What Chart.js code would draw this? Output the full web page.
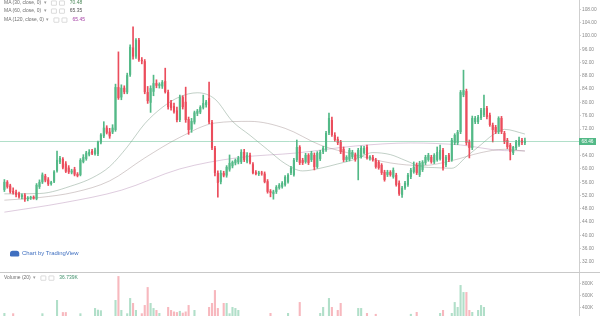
<!DOCTYPE html>
<html>
<head>
<meta charset="utf-8">
<script src="https://cdn.jsdelivr.net/npm/chart.js@4.4.1/dist/chart.umd.min.js"></script>
<style>
  html, body { margin: 0; padding: 0; background: #fff; overflow: hidden; }
  #wrap { position: relative; width: 600px; height: 316px; }
  #chart { position: absolute; left: 0; top: 0; }
  .leg {
    position: absolute; left: 4px; white-space: nowrap;
    font: 8px "Liberation Sans", Arial, sans-serif; color: #6f6f6f;
    transform: scale(0.62); transform-origin: 0 0;
    display: flex; align-items: center; gap: 4px;
  }
  .ico { display: inline-block; width: 7px; height: 6px; border: 1px solid #c4c4c4; border-radius: 1px; }
  .arr { color: #9a9a9a; margin-right: 4px; }
  .tv { position: absolute; left: 10px; top: 250px; display: flex; align-items: center; gap: 4px;
        font: 9px "Liberation Sans", Arial, sans-serif; color: #3f6fc0;
        transform: scale(0.66); transform-origin: 0 0; white-space: nowrap; }
  .logo { width: 14px; height: 9px; background: #3f6fc0; border-radius: 4px 4px 2px 2px; }
</style>
</head>
<body>
<div id="wrap">
  <canvas id="chart" width="600" height="316"></canvas>
  <div class="leg" style="top:0px">MA (30, close, 0) <span class="arr">▾</span><span class="ico"></span><span class="ico"></span><span style="color:#4f8a5c;margin-left:4px">70.48</span></div>
  <div class="leg" style="top:8px">MA (60, close, 0) <span class="arr">▾</span><span class="ico"></span><span class="ico"></span><span style="color:#555;margin-left:4px">65.35</span></div>
  <div class="leg" style="top:17px">MA (120, close, 0) <span class="arr">▾</span><span class="ico"></span><span class="ico"></span><span style="color:#a43ea4;margin-left:4px">65.45</span></div>
  <div class="tv"><span class="logo"></span>Chart by TradingView</div>
  <div class="leg" style="top:275px">Volume (20) <span class="arr">▾</span><span class="ico"></span><span class="ico"></span><span style="color:#3f8f6a;margin-left:4px">36.739K</span></div>
</div>
<script>
// daily candles (price units)
const opens = [
  53.7, 56.1, 55.0, 53.4, 53.0, 52.6, 51.6, 52.2, 50.9, 51.2,
  51.6, 51.0, 54.6, 56.0, 57.9, 56.8, 55.5, 56.2, 59.4, 62.0,
  63.0, 61.6, 60.4, 58.9, 59.9, 58.5, 58.2, 62.1, 63.0, 64.3,
  65.4, 64.5, 64.5, 67.9, 69.8, 72.4, 71.2, 71.0, 71.7, 84.6,
  81.5, 84.4, 83.0, 88.3, 96.5, 93.8, 98.8, 92.8, 92.4, 83.1,
  79.9, 83.2, 85.8, 85.0, 84.8, 86.4, 83.1, 79.9, 78.9, 77.6,
  74.7, 81.6, 80.2, 75.0, 71.8, 74.0, 76.6, 77.0, 78.4, 79.2,
  81.3, 74.1, 66.3, 58.8, 56.1, 58.8, 58.0, 59.8, 60.8, 61.7,
  62.0, 62.1, 65.1, 62.2, 64.2, 61.4, 59.0, 58.5, 58.9, 58.6,
  56.3, 53.3, 52.4, 53.1, 54.3, 54.6, 55.2, 56.1, 58.8, 58.2,
  62.7, 66.6, 62.7, 62.1, 64.2, 62.7, 64.2, 60.6, 63.0, 65.1,
  65.8, 70.8, 74.7, 70.2, 69.0, 68.1, 66.0, 62.7, 62.8, 63.6,
  64.2, 63.3, 63.6, 64.8, 66.6, 63.3, 63.6, 62.7, 62.1, 61.2,
  59.1, 58.2, 59.1, 57.6, 58.2, 55.8, 52.2, 54.3, 55.2, 57.6,
  59.1, 61.2, 58.2, 59.7, 61.8, 62.7, 63.6, 62.0, 62.7, 63.0,
  65.7, 61.2, 64.2, 62.7, 67.8, 67.8, 71.1, 82.2, 83.4, 68.1,
  66.3, 74.1, 74.1, 75.3, 76.2, 78.3, 76.2, 73.2, 72.6, 71.1,
  75.3, 70.8, 68.7, 67.2, 64.8, 66.3, 67.2, 68.7, 67.8
];
const highs = [
  56.8, 56.5, 55.4, 54.3, 53.6, 53.0, 52.5, 52.6, 51.7, 51.8,
  51.9, 55.6, 56.7, 58.8, 58.4, 57.4, 56.3, 59.5, 65.4, 63.8,
  63.4, 62.2, 61.0, 59.9, 60.5, 58.9, 63.1, 64.3, 65.3, 65.8,
  65.9, 66.3, 68.4, 70.6, 74.2, 73.0, 72.2, 73.3, 85.5, 95.2,
  85.3, 85.0, 88.8, 97.3, 102.7, 99.2, 99.3, 93.5, 92.9, 84.8,
  85.0, 88.2, 86.8, 85.9, 86.6, 90.3, 83.7, 80.6, 79.8, 78.6,
  82.2, 82.0, 84.6, 75.6, 75.2, 77.4, 77.9, 79.0, 82.2, 80.6,
  86.1, 74.6, 66.8, 59.4, 59.5, 59.3, 61.0, 64.2, 62.4, 63.0,
  63.8, 65.8, 65.9, 64.9, 64.8, 61.9, 59.5, 59.3, 59.3, 59.1,
  56.8, 53.8, 53.6, 55.0, 55.6, 56.2, 58.0, 58.6, 60.8, 63.2,
  68.7, 67.0, 63.2, 64.7, 64.6, 65.3, 64.8, 65.2, 65.6, 66.8,
  71.3, 76.8, 75.6, 70.9, 69.6, 68.6, 66.6, 64.0, 66.2, 65.6,
  64.8, 66.2, 66.9, 66.8, 67.2, 64.0, 64.1, 63.2, 62.5, 61.6,
  59.6, 59.6, 59.5, 60.3, 58.7, 56.4, 54.8, 56.3, 58.7, 60.2,
  62.1, 61.8, 62.3, 62.5, 64.1, 64.7, 64.1, 64.6, 66.6, 67.2,
  66.2, 64.1, 64.7, 69.2, 70.6, 71.6, 83.6, 89.7, 84.0, 68.7,
  75.9, 75.8, 76.1, 78.2, 82.2, 78.8, 76.8, 73.8, 73.1, 75.7,
  75.8, 71.3, 69.2, 67.7, 66.8, 68.6, 69.6, 69.2, 69.3
];
const lows = [
  53.2, 54.2, 52.7, 52.4, 51.6, 51.2, 51.0, 50.2, 50.4, 50.8,
  50.9, 50.7, 54.1, 55.6, 56.1, 55.0, 55.1, 55.9, 59.0, 61.6,
  60.0, 58.9, 58.6, 58.5, 57.9, 57.6, 57.9, 61.8, 62.6, 63.9,
  64.3, 64.1, 64.0, 67.5, 69.4, 70.5, 69.2, 70.6, 71.3, 80.9,
  80.8, 82.6, 82.6, 87.8, 93.0, 93.2, 92.3, 91.6, 82.6, 79.7,
  77.0, 82.0, 84.4, 84.3, 84.2, 82.8, 78.0, 77.7, 76.8, 74.1,
  74.2, 78.0, 74.0, 70.4, 71.0, 73.5, 76.0, 76.6, 78.0, 78.6,
  73.6, 65.8, 57.9, 51.5, 55.5, 57.6, 57.5, 59.3, 60.3, 61.2,
  61.5, 61.6, 62.2, 61.8, 61.5, 58.5, 58.2, 58.0, 58.1, 55.8,
  52.7, 51.6, 50.9, 52.6, 53.9, 54.2, 54.8, 55.7, 58.3, 57.8,
  62.2, 61.3, 61.3, 61.7, 61.3, 62.2, 59.7, 60.2, 62.5, 64.6,
  65.3, 70.3, 69.8, 68.3, 67.3, 64.6, 62.2, 62.2, 62.4, 63.1,
  62.3, 56.7, 63.2, 64.4, 62.9, 62.6, 62.3, 60.2, 59.9, 58.3,
  56.3, 57.7, 57.8, 57.2, 54.8, 52.0, 51.4, 53.8, 54.7, 57.1,
  58.7, 58.3, 57.7, 59.2, 61.3, 62.3, 61.7, 61.6, 62.3, 62.6,
  59.6, 60.7, 62.2, 62.3, 67.3, 67.3, 70.6, 81.7, 67.2, 63.3,
  65.8, 73.6, 73.6, 74.8, 75.7, 75.0, 72.8, 68.1, 70.6, 70.6,
  70.6, 67.6, 66.1, 62.7, 64.3, 65.8, 66.8, 67.3, 67.3
];
const closes = [
  56.1, 54.6, 53.1, 52.8, 52.2, 51.6, 52.1, 50.8, 51.4, 51.6,
  51.1, 55.2, 56.1, 58.3, 56.5, 55.4, 56.0, 59.2, 62.7, 63.3,
  60.4, 59.2, 59.0, 59.5, 58.3, 57.9, 62.7, 63.6, 64.9, 65.1,
  64.6, 65.8, 68.1, 70.3, 72.4, 70.9, 69.8, 72.4, 84.6, 81.3,
  84.4, 83.1, 88.2, 96.7, 93.8, 98.8, 92.8, 92.4, 83.1, 80.4,
  84.3, 85.8, 85.0, 85.5, 86.1, 83.1, 78.6, 78.3, 77.2, 74.7,
  81.6, 78.6, 74.7, 71.7, 74.4, 77.0, 77.5, 78.6, 79.8, 80.2,
  74.1, 66.3, 58.8, 55.8, 58.8, 58.0, 60.6, 61.8, 62.1, 62.7,
  63.3, 65.1, 62.7, 64.2, 61.9, 58.8, 58.5, 58.9, 58.6, 56.1,
  53.1, 52.8, 53.2, 54.6, 55.2, 55.8, 57.6, 58.2, 60.3, 62.7,
  66.6, 61.8, 61.8, 64.2, 61.8, 64.8, 60.6, 64.8, 65.1, 66.3,
  70.8, 75.3, 70.2, 68.7, 67.8, 65.1, 62.7, 63.6, 65.7, 65.1,
  62.8, 65.7, 66.3, 66.3, 63.3, 63.7, 62.7, 60.6, 60.3, 58.8,
  56.7, 59.1, 58.2, 59.7, 55.2, 52.5, 54.3, 55.8, 58.2, 59.7,
  60.6, 58.8, 61.8, 62.1, 63.6, 64.2, 62.1, 64.2, 65.1, 65.7,
  60.3, 63.6, 62.7, 68.7, 70.2, 71.1, 83.1, 83.7, 67.8, 66.3,
  75.3, 75.3, 75.6, 77.7, 78.3, 75.6, 73.2, 71.7, 71.1, 75.3,
  71.1, 68.1, 66.6, 65.1, 66.6, 68.1, 68.7, 67.8, 68.46
];
// volume in thousands
const volumes = [
  305, 210, 180, 300, 190, 170, 150, 220, 140, 130,
  160, 240, 200, 300, 180, 170, 150, 230, 522, 250,
  320, 320, 200, 160, 190, 170, 300, 240, 210, 200,
  180, 388, 360, 350, 250, 220, 210, 240, 522, 922,
  355, 240, 300, 555, 472, 355, 250, 300, 438, 738,
  472, 388, 355, 305, 230, 250, 405, 355, 330, 320,
  340, 310, 330, 438, 250, 355, 240, 220, 230, 210,
  405, 472, 688, 388, 250, 472, 472, 300, 405, 388,
  355, 240, 210, 190, 200, 230, 180, 160, 170, 210,
  240, 305, 200, 190, 170, 180, 200, 305, 240, 250,
  230, 488, 220, 200, 190, 210, 240, 230, 305, 405,
  250, 555, 405, 240, 355, 472, 250, 200, 230, 210,
  190, 388, 388, 240, 305, 180, 170, 290, 220, 200,
  240, 180, 170, 200, 230, 240, 190, 180, 200, 290,
  220, 322, 210, 200, 190, 180, 200, 190, 170, 305,
  355, 210, 220, 305, 488, 405, 772, 655, 655, 355,
  322, 240, 355, 438, 405, 250, 230, 210, 220, 240,
  200, 190, 230, 210, 200, 220, 180, 170, 37
];

// moving averages, read at a few candle positions
const ma30At = [0, 12, 24, 30, 36, 42, 48, 54, 60, 66, 72, 78, 84, 90, 96, 102, 108, 114, 120, 126, 132, 137, 143, 147, 153, 158, 163, 167, 171, 178];
const ma30 = [52.5, 52.6, 55.2, 57.3, 60.7, 66.6, 73.6, 78.5, 81.7, 82.9, 81.0, 74.3, 70.1, 65.8, 61.6, 59.4, 60.2, 61.5, 62.9, 64.9, 64.3, 62.6, 60.6, 60.4, 60.2, 63.7, 67.3, 70.2, 71.9, 70.5];
const ma60At = [0, 12, 24, 36, 48, 60, 72, 84, 96, 108, 120, 132, 143, 153, 163, 171, 178];
const ma60 = [50.6, 51.4, 53.0, 56.4, 63.3, 69.5, 73.8, 74.3, 72.2, 67.2, 64.3, 61.8, 61.0, 62.5, 64.9, 65.9, 65.35];
const ma120At = [0, 20, 40, 60, 80, 100, 120, 139, 156, 171, 178];
const ma120 = [47.0, 49.8, 53.6, 60.0, 63.4, 64.8, 66.9, 67.8, 67.2, 65.5, 65.45];

const priceTicks = [32, 36, 40, 44, 48, 52, 56, 60, 64, 68, 72, 76, 80, 84, 88, 92, 96, 100, 104, 108];
const volumeTicks = [400, 600, 800];

const upColor = '#53b987';
const downColor = '#eb4d5c';

const candleCount = opens.length;
// one empty day before the first candle, room on the right after the last one
const slots = Array.from({ length: candleCount + 19 }, (_, i) => 'd' + i);
const lead = arr => [null, ...arr];
const isUp = closes.map((c, i) => c >= opens[i]);
const candleColors = lead(isUp.map(u => (u ? upColor : downColor)));
const volumeColors = lead(isUp.map(u => (u ? 'rgba(83,185,135,0.45)' : 'rgba(235,77,92,0.4)')));

function sparse(at, vals) {
  const out = new Array(candleCount).fill(null);
  at.forEach((idx, k) => { out[idx] = vals[k]; });
  return lead(out);
}

function maLine(at, vals, color) {
  return {
    type: 'line', data: sparse(at, vals), yAxisID: 'y', order: 3,
    borderColor: color, borderWidth: 1, pointRadius: 0, spanGaps: true,
    cubicInterpolationMode: 'monotone'
  };
}

// separator between panes, last-price line and its axis label
const overlays = {
  id: 'overlays',
  afterDatasetsDraw(chart) {
    const ctx = chart.ctx;
    const area = chart.chartArea;
    const y = chart.scales.y;
    const vol = chart.scales.yVol;
    const last = closes[closes.length - 1];
    const py = Math.round(y.getPixelForValue(last)) + 0.5;
    ctx.save();
    ctx.strokeStyle = 'rgba(83,185,135,0.45)';
    ctx.lineWidth = 1;
    ctx.beginPath();
    ctx.moveTo(area.left, py);
    ctx.lineTo(area.right, py);
    ctx.stroke();
    ctx.strokeStyle = '#c9c9c9';
    ctx.beginPath();
    ctx.moveTo(0, Math.round(vol.top) + 0.5);
    ctx.lineTo(chart.width, Math.round(vol.top) + 0.5);
    ctx.stroke();
    ctx.fillStyle = upColor;
    ctx.fillRect(area.right, py - 3.5, 17, 7);
    ctx.fillStyle = '#fff';
    ctx.font = '4.8px "Liberation Sans", Arial, sans-serif';
    ctx.textBaseline = 'middle';
    ctx.textAlign = 'center';
    ctx.fillText(last.toFixed(2), area.right + 8.5, py);
    ctx.restore();
  }
};

const axisFont = { family: '"Liberation Sans", Arial, sans-serif', size: 4.8 };
const fitAxis = s => { s.width = 21; s.paddingTop = 0; s.paddingBottom = 0; };

new Chart(document.getElementById('chart'), {
  data: {
    labels: slots,
    datasets: [
      {
        type: 'bar', data: lead(opens.map((o, i) => [o, closes[i]])), yAxisID: 'y', order: 1,
        backgroundColor: candleColors, grouped: false, barPercentage: 0.72,
        categoryPercentage: 1, minBarLength: 1
      },
      {
        type: 'bar', data: lead(lows.map((l, i) => [l, highs[i]])), yAxisID: 'y', order: 2,
        backgroundColor: candleColors, grouped: false, barThickness: 1
      },
      maLine(ma30At, ma30, 'rgba(120,150,130,0.45)'),
      maLine(ma60At, ma60, 'rgba(150,130,130,0.4)'),
      maLine(ma120At, ma120, 'rgba(160,110,160,0.35)'),
      {
        type: 'bar', data: lead(volumes), yAxisID: 'yVol', order: 4,
        backgroundColor: volumeColors, grouped: false, barPercentage: 0.72,
        categoryPercentage: 1
      }
    ]
  },
  options: {
    responsive: false,
    animation: false,
    devicePixelRatio: 1,
    layout: { padding: 0 },
    events: [],
    plugins: { legend: { display: false }, tooltip: { enabled: false } },
    scales: {
      x: { display: false, offset: true },
      y: {
        position: 'right', stack: 'pane', stackWeight: 272,
        min: 29.0, max: 110.8,
        afterFit: fitAxis,
        afterBuildTicks: s => { s.ticks = priceTicks.map(v => ({ value: v })); },
        ticks: { font: axisFont, color: '#8a8a8a', padding: 1, autoSkip: false, callback: v => v.toFixed(2) },
        grid: { drawOnChartArea: false, tickLength: 2, color: '#cfcfcf' },
        border: { color: '#cfcfcf' }
      },
      yVol: {
        position: 'right', stack: 'pane', stackWeight: 44,
        min: 255, max: 990,
        afterFit: fitAxis,
        afterBuildTicks: s => { s.ticks = volumeTicks.map(v => ({ value: v })); },
        ticks: { font: axisFont, color: '#8a8a8a', padding: 1, autoSkip: false, callback: v => v + 'K' },
        grid: { drawOnChartArea: false, tickLength: 2, color: '#cfcfcf' },
        border: { color: '#cfcfcf' }
      }
    }
  },
  plugins: [overlays]
});
</script>
</body>
</html>
